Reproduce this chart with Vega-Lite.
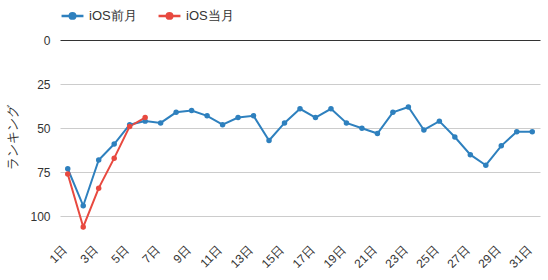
{
  "$schema": "https://vega.github.io/schema/vega-lite/v6.json",
  "width": 480,
  "height": 194,
  "autosize": {"type": "none"},
  "padding": {"left": 60, "top": 40, "right": 8, "bottom": 46},
  "config": {
    "font": "Liberation Sans",
    "view": {"stroke": null}
  },
  "data": {
    "values": [
      {"day": 1, "series": "iOS前月", "rank": 73},
      {"day": 2, "series": "iOS前月", "rank": 94},
      {"day": 3, "series": "iOS前月", "rank": 68},
      {"day": 4, "series": "iOS前月", "rank": 59},
      {"day": 5, "series": "iOS前月", "rank": 48},
      {"day": 6, "series": "iOS前月", "rank": 46},
      {"day": 7, "series": "iOS前月", "rank": 47},
      {"day": 8, "series": "iOS前月", "rank": 41},
      {"day": 9, "series": "iOS前月", "rank": 40},
      {"day": 10, "series": "iOS前月", "rank": 43},
      {"day": 11, "series": "iOS前月", "rank": 48},
      {"day": 12, "series": "iOS前月", "rank": 44},
      {"day": 13, "series": "iOS前月", "rank": 43},
      {"day": 14, "series": "iOS前月", "rank": 57},
      {"day": 15, "series": "iOS前月", "rank": 47},
      {"day": 16, "series": "iOS前月", "rank": 39},
      {"day": 17, "series": "iOS前月", "rank": 44},
      {"day": 18, "series": "iOS前月", "rank": 39},
      {"day": 19, "series": "iOS前月", "rank": 47},
      {"day": 20, "series": "iOS前月", "rank": 50},
      {"day": 21, "series": "iOS前月", "rank": 53},
      {"day": 22, "series": "iOS前月", "rank": 41},
      {"day": 23, "series": "iOS前月", "rank": 38},
      {"day": 24, "series": "iOS前月", "rank": 51},
      {"day": 25, "series": "iOS前月", "rank": 46},
      {"day": 26, "series": "iOS前月", "rank": 55},
      {"day": 27, "series": "iOS前月", "rank": 65},
      {"day": 28, "series": "iOS前月", "rank": 71},
      {"day": 29, "series": "iOS前月", "rank": 60},
      {"day": 30, "series": "iOS前月", "rank": 52},
      {"day": 31, "series": "iOS前月", "rank": 52},
      {"day": 1, "series": "iOS当月", "rank": 76},
      {"day": 2, "series": "iOS当月", "rank": 106},
      {"day": 3, "series": "iOS当月", "rank": 84},
      {"day": 4, "series": "iOS当月", "rank": 67},
      {"day": 5, "series": "iOS当月", "rank": 49},
      {"day": 6, "series": "iOS当月", "rank": 44}
    ]
  },
  "mark": {"type": "line", "strokeWidth": 2, "point": {"filled": true, "size": 30}},
  "encoding": {
    "x": {
      "field": "day",
      "type": "ordinal",
      "scale": {"type": "point", "padding": 0.5},
      "axis": {
        "title": null,
        "values": [1, 3, 5, 7, 9, 11, 13, 15, 17, 19, 21, 23, 25, 27, 29, 31],
        "labelExpr": "datum.label + '日'",
        "labelAngle": -45,
        "labelFontSize": 12,
        "labelColor": "#333",
        "labelOffset": -7,
        "ticks": false,
        "domain": false,
        "grid": false,
        "labelPadding": 10
      }
    },
    "y": {
      "field": "rank",
      "type": "quantitative",
      "scale": {"domain": [0, 110], "reverse": true, "nice": false},
      "axis": {
        "title": "ランキング",
        "titleFontWeight": "normal",
        "titleFontSize": 13,
        "titleColor": "#333",
        "titlePadding": 10,
        "values": [0, 25, 50, 75, 100],
        "labelFontSize": 12,
        "labelColor": "#333",
        "labelPadding": 10,
        "ticks": false,
        "domain": false,
        "gridColor": {"condition": {"test": "datum.value === 0", "value": "#333"}, "value": "#ccc"}
      }
    },
    "color": {
      "field": "series",
      "type": "nominal",
      "sort": ["iOS前月", "iOS当月"],
      "scale": {"domain": ["iOS前月", "iOS当月"], "range": ["#2e80be", "#e8493f"]},
      "legend": {
        "title": null,
        "orient": "top",
        "direction": "horizontal",
        "offset": 16,
        "labelFontSize": 13,
        "labelColor": "#333",
        "symbolType": "M-1,0H1M0.25,0A0.25,0.25,0,1,1,-0.25,0A0.25,0.25,0,1,1,0.25,0",
        "symbolSize": 480,
        "symbolStrokeWidth": 2.5,
        "columnPadding": 16
      }
    }
  }
}
